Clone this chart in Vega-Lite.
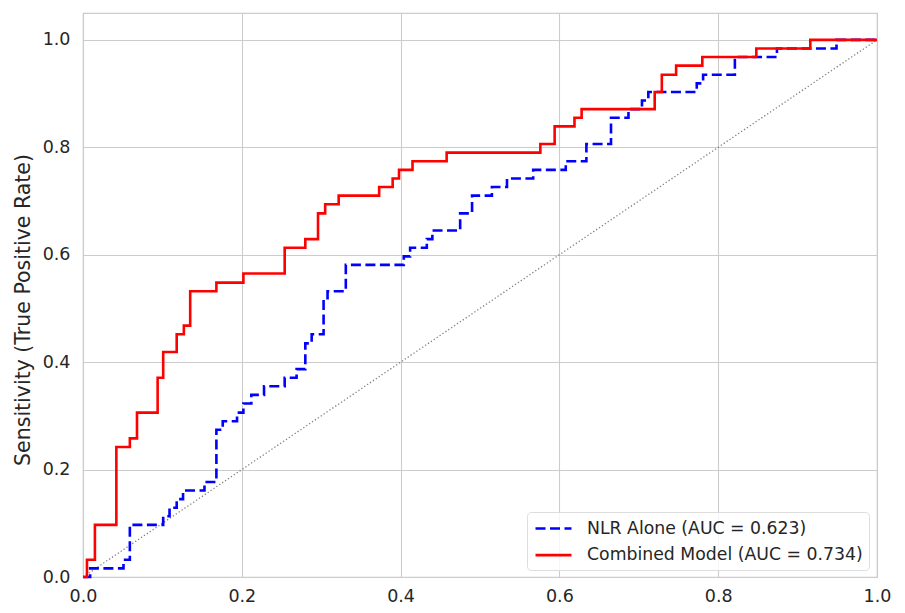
{
  "$schema": "https://vega.github.io/schema/vega-lite/v6.json",
  "width": 794,
  "height": 564,
  "autosize": {"type": "none"},
  "padding": {"left": 83, "top": 13, "right": 28, "bottom": 36},
  "background": "white",
  "config": {
    "font": "DejaVu Sans",
    "view": {"stroke": "#cccccc", "strokeWidth": 1.2},
    "axis": {
      "labelFont": "DejaVu Sans",
      "labelFontSize": 17.5,
      "labelColor": "#262626",
      "labelFlush": false,
      "titleFont": "DejaVu Sans",
      "titleColor": "#262626",
      "titleFontWeight": "normal",
      "grid": true,
      "gridColor": "#cccccc",
      "gridWidth": 1.1,
      "domain": false,
      "ticks": true,
      "tickSize": 0,
      "tickColor": "transparent"
    },
    "legend": {
      "labelFont": "DejaVu Sans",
      "labelFontSize": 17.3,
      "labelColor": "#262626",
      "labelLimit": 0
    }
  },
  "datasets": {
    "roc": [
      {"fpr": 0.0, "tpr": 0.0, "model": "NLR Alone (AUC = 0.623)"},
      {"fpr": 0.009, "tpr": 0.016, "model": "NLR Alone (AUC = 0.623)"},
      {"fpr": 0.051, "tpr": 0.032, "model": "NLR Alone (AUC = 0.623)"},
      {"fpr": 0.059, "tpr": 0.097, "model": "NLR Alone (AUC = 0.623)"},
      {"fpr": 0.101, "tpr": 0.113, "model": "NLR Alone (AUC = 0.623)"},
      {"fpr": 0.109, "tpr": 0.129, "model": "NLR Alone (AUC = 0.623)"},
      {"fpr": 0.118, "tpr": 0.145, "model": "NLR Alone (AUC = 0.623)"},
      {"fpr": 0.126, "tpr": 0.161, "model": "NLR Alone (AUC = 0.623)"},
      {"fpr": 0.153, "tpr": 0.177, "model": "NLR Alone (AUC = 0.623)"},
      {"fpr": 0.168, "tpr": 0.274, "model": "NLR Alone (AUC = 0.623)"},
      {"fpr": 0.176, "tpr": 0.29, "model": "NLR Alone (AUC = 0.623)"},
      {"fpr": 0.194, "tpr": 0.306, "model": "NLR Alone (AUC = 0.623)"},
      {"fpr": 0.202, "tpr": 0.323, "model": "NLR Alone (AUC = 0.623)"},
      {"fpr": 0.212, "tpr": 0.339, "model": "NLR Alone (AUC = 0.623)"},
      {"fpr": 0.228, "tpr": 0.355, "model": "NLR Alone (AUC = 0.623)"},
      {"fpr": 0.254, "tpr": 0.371, "model": "NLR Alone (AUC = 0.623)"},
      {"fpr": 0.269, "tpr": 0.387, "model": "NLR Alone (AUC = 0.623)"},
      {"fpr": 0.28, "tpr": 0.435, "model": "NLR Alone (AUC = 0.623)"},
      {"fpr": 0.288, "tpr": 0.452, "model": "NLR Alone (AUC = 0.623)"},
      {"fpr": 0.303, "tpr": 0.516, "model": "NLR Alone (AUC = 0.623)"},
      {"fpr": 0.308, "tpr": 0.532, "model": "NLR Alone (AUC = 0.623)"},
      {"fpr": 0.331, "tpr": 0.581, "model": "NLR Alone (AUC = 0.623)"},
      {"fpr": 0.404, "tpr": 0.597, "model": "NLR Alone (AUC = 0.623)"},
      {"fpr": 0.412, "tpr": 0.613, "model": "NLR Alone (AUC = 0.623)"},
      {"fpr": 0.433, "tpr": 0.629, "model": "NLR Alone (AUC = 0.623)"},
      {"fpr": 0.44, "tpr": 0.645, "model": "NLR Alone (AUC = 0.623)"},
      {"fpr": 0.475, "tpr": 0.677, "model": "NLR Alone (AUC = 0.623)"},
      {"fpr": 0.49, "tpr": 0.71, "model": "NLR Alone (AUC = 0.623)"},
      {"fpr": 0.515, "tpr": 0.726, "model": "NLR Alone (AUC = 0.623)"},
      {"fpr": 0.534, "tpr": 0.742, "model": "NLR Alone (AUC = 0.623)"},
      {"fpr": 0.567, "tpr": 0.758, "model": "NLR Alone (AUC = 0.623)"},
      {"fpr": 0.608, "tpr": 0.774, "model": "NLR Alone (AUC = 0.623)"},
      {"fpr": 0.634, "tpr": 0.806, "model": "NLR Alone (AUC = 0.623)"},
      {"fpr": 0.665, "tpr": 0.855, "model": "NLR Alone (AUC = 0.623)"},
      {"fpr": 0.687, "tpr": 0.871, "model": "NLR Alone (AUC = 0.623)"},
      {"fpr": 0.704, "tpr": 0.887, "model": "NLR Alone (AUC = 0.623)"},
      {"fpr": 0.712, "tpr": 0.903, "model": "NLR Alone (AUC = 0.623)"},
      {"fpr": 0.773, "tpr": 0.919, "model": "NLR Alone (AUC = 0.623)"},
      {"fpr": 0.781, "tpr": 0.935, "model": "NLR Alone (AUC = 0.623)"},
      {"fpr": 0.821, "tpr": 0.968, "model": "NLR Alone (AUC = 0.623)"},
      {"fpr": 0.874, "tpr": 0.984, "model": "NLR Alone (AUC = 0.623)"},
      {"fpr": 0.949, "tpr": 1.0, "model": "NLR Alone (AUC = 0.623)"},
      {"fpr": 1.0, "tpr": 1.0, "model": "NLR Alone (AUC = 0.623)"},
      {"fpr": 0.0, "tpr": 0.0, "model": "Combined Model (AUC = 0.734)"},
      {"fpr": 0.005, "tpr": 0.032, "model": "Combined Model (AUC = 0.734)"},
      {"fpr": 0.015, "tpr": 0.097, "model": "Combined Model (AUC = 0.734)"},
      {"fpr": 0.042, "tpr": 0.242, "model": "Combined Model (AUC = 0.734)"},
      {"fpr": 0.059, "tpr": 0.258, "model": "Combined Model (AUC = 0.734)"},
      {"fpr": 0.068, "tpr": 0.306, "model": "Combined Model (AUC = 0.734)"},
      {"fpr": 0.094, "tpr": 0.371, "model": "Combined Model (AUC = 0.734)"},
      {"fpr": 0.101, "tpr": 0.419, "model": "Combined Model (AUC = 0.734)"},
      {"fpr": 0.118, "tpr": 0.452, "model": "Combined Model (AUC = 0.734)"},
      {"fpr": 0.127, "tpr": 0.468, "model": "Combined Model (AUC = 0.734)"},
      {"fpr": 0.135, "tpr": 0.532, "model": "Combined Model (AUC = 0.734)"},
      {"fpr": 0.168, "tpr": 0.548, "model": "Combined Model (AUC = 0.734)"},
      {"fpr": 0.202, "tpr": 0.565, "model": "Combined Model (AUC = 0.734)"},
      {"fpr": 0.254, "tpr": 0.613, "model": "Combined Model (AUC = 0.734)"},
      {"fpr": 0.28, "tpr": 0.629, "model": "Combined Model (AUC = 0.734)"},
      {"fpr": 0.296, "tpr": 0.677, "model": "Combined Model (AUC = 0.734)"},
      {"fpr": 0.305, "tpr": 0.694, "model": "Combined Model (AUC = 0.734)"},
      {"fpr": 0.322, "tpr": 0.71, "model": "Combined Model (AUC = 0.734)"},
      {"fpr": 0.373, "tpr": 0.726, "model": "Combined Model (AUC = 0.734)"},
      {"fpr": 0.39, "tpr": 0.742, "model": "Combined Model (AUC = 0.734)"},
      {"fpr": 0.398, "tpr": 0.758, "model": "Combined Model (AUC = 0.734)"},
      {"fpr": 0.415, "tpr": 0.774, "model": "Combined Model (AUC = 0.734)"},
      {"fpr": 0.458, "tpr": 0.79, "model": "Combined Model (AUC = 0.734)"},
      {"fpr": 0.576, "tpr": 0.806, "model": "Combined Model (AUC = 0.734)"},
      {"fpr": 0.594, "tpr": 0.839, "model": "Combined Model (AUC = 0.734)"},
      {"fpr": 0.619, "tpr": 0.855, "model": "Combined Model (AUC = 0.734)"},
      {"fpr": 0.628, "tpr": 0.871, "model": "Combined Model (AUC = 0.734)"},
      {"fpr": 0.72, "tpr": 0.903, "model": "Combined Model (AUC = 0.734)"},
      {"fpr": 0.729, "tpr": 0.935, "model": "Combined Model (AUC = 0.734)"},
      {"fpr": 0.747, "tpr": 0.952, "model": "Combined Model (AUC = 0.734)"},
      {"fpr": 0.78, "tpr": 0.968, "model": "Combined Model (AUC = 0.734)"},
      {"fpr": 0.848, "tpr": 0.984, "model": "Combined Model (AUC = 0.734)"},
      {"fpr": 0.916, "tpr": 1.0, "model": "Combined Model (AUC = 0.734)"},
      {"fpr": 1.0, "tpr": 1.0, "model": "Combined Model (AUC = 0.734)"}
    ],
    "chance": [
      {"fpr": 0.0, "tpr": 0.0},
      {"fpr": 1.0, "tpr": 1.0}
    ]
  },
  "layer": [
    {
      "data": {"name": "chance"},
      "mark": {"type": "line", "color": "#808080", "strokeWidth": 1.3, "strokeDash": [1.3, 2.2], "clip": true},
      "encoding": {
        "x": {"field": "fpr", "type": "quantitative"},
        "y": {"field": "tpr", "type": "quantitative"}
      }
    },
    {
      "data": {"name": "roc"},
      "mark": {"type": "line", "interpolate": "step-after", "strokeWidth": 2.6, "clip": false},
      "encoding": {
        "x": {
          "field": "fpr",
          "type": "quantitative",
          "title": null,
          "scale": {"domain": [0, 1], "nice": false, "zero": false},
          "axis": {"values": [0, 0.2, 0.4, 0.6, 0.8, 1.0], "format": ".1f", "labelPadding": 10}
        },
        "y": {
          "field": "tpr",
          "type": "quantitative",
          "title": "Sensitivity (True Positive Rate)",
          "scale": {"domain": [0, 1.05], "nice": false, "zero": false},
          "axis": {
            "values": [0, 0.2, 0.4, 0.6, 0.8, 1.0],
            "format": ".1f",
            "labelPadding": 13,
            "titleFontSize": 20.5,
            "titleAngle": 270,
            "titleAlign": "center",
            "titleBaseline": "alphabetic",
            "titleX": -54,
            "titleY": 296.5
          }
        },
        "color": {
          "field": "model",
          "type": "nominal",
          "sort": null,
          "scale": {
            "domain": ["NLR Alone (AUC = 0.623)", "Combined Model (AUC = 0.734)"],
            "range": ["#0000ff", "#ff0000"]
          },
          "legend": {
            "title": null,
            "orient": "none",
            "legendX": 444,
            "legendY": 499,
            "symbolType": "M-2,0H2",
            "symbolSize": 324,
            "symbolOffset": 10,
            "symbolStrokeWidth": 2.6,
            "labelOffset": 23,
            "padding": 6,
            "rowPadding": 7.6,
            "strokeColor": "#dddddd",
            "fillColor": "rgba(255,255,255,0.8)",
            "cornerRadius": 4
          }
        },
        "strokeDash": {
          "field": "model",
          "type": "nominal",
          "sort": null,
          "scale": {
            "domain": ["NLR Alone (AUC = 0.623)", "Combined Model (AUC = 0.734)"],
            "range": [[10, 4.5], [1, 0]]
          },
          "legend": null
        }
      }
    }
  ]
}
